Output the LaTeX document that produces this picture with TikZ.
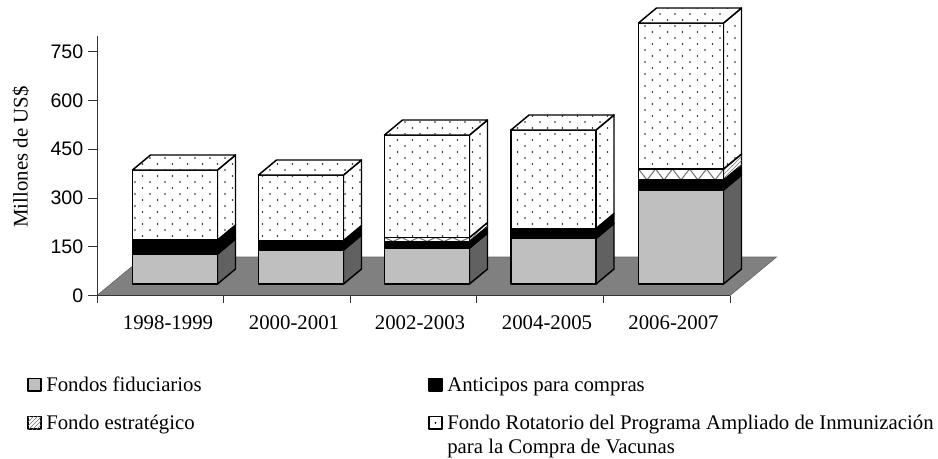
\documentclass[tikz,border=0pt]{standalone}
\usepackage{fontspec}
\setmainfont{Liberation Serif}
\newfontfamily\sansnum{Liberation Sans}
\usepackage{tikz}
\usetikzlibrary{patterns}

% sparse staggered dots for the revolving fund
\pgfdeclarepatternformonly{sparsedots}{\pgfqpoint{-1pt}{-1pt}}{\pgfqpoint{12pt}{10pt}}{\pgfqpoint{11.25pt}{9pt}}{
  \pgfpathcircle{\pgfqpoint{0pt}{0pt}}{0.7pt}
  \pgfpathcircle{\pgfqpoint{5.6pt}{4.5pt}}{0.7pt}
  \pgfusepath{fill}}

\tikzset{
  edge/.style={draw=black, line width=1.1pt, line join=round},
  grayface/.style={edge, fill=black!25},
  grayside/.style={edge, fill=black!62},
  blackface/.style={edge, fill=black},
  dotface/.style={edge, fill=white, postaction={pattern=sparsedots, pattern color=black!90}},
  hatchface/.style={edge, fill=white},
  hatchside/.style={edge, fill=white, postaction={pattern=north east lines, pattern color=black!55}},
  txt/.style={font=\fontsize{15.6}{18}\selectfont},
}

% one layer of a bar: x, bottom, top, front style, side style
\newcommand{\slab}[5]{%
  \filldraw[#5] (#1+85,#2) -- ++(18,-15) -- ++(0,#3-#2) -- ++(-18,15) -- cycle;
  \filldraw[#4] (#1,#2) -- ++(85,0) -- ++(0,#3-#2) -- ++(-85,0) -- cycle;
}
% zigzag on the front of the strategic fund layer
\newcommand{\zig}[3]{%
  \begin{scope}
    \clip (#1,#2) rectangle (#1+85,#3);
    \foreach \k in {0,...,4}
      \draw[black!55, line width=0.8pt] (#1+\k*17,#3) -- (#1+\k*17+8.5,#2) -- (#1+\k*17+17,#3);
  \end{scope}
  \draw[edge] (#1,#2) rectangle (#1+85,#3);
}
\newcommand{\slabtop}[2]{%
  \filldraw[dotface] (#1,#2) -- ++(18,-15) -- ++(85,0) -- ++(-18,15) -- cycle;
}

\begin{document}
\begin{tikzpicture}[x=0.75pt, y=-0.75pt]
	\useasboundingbox (0,0) rectangle (938,458);

	% floor and axes
	\filldraw[fill=gray, draw=black!60, line width=0.5pt]
	   (97,295.5) -- (730,295.5) -- (776.5,257) -- (143.5,257) -- cycle;
	\draw[black!80, line width=0.6pt] (97,35.5) -- (97,295.5) -- (730,295.5);
	\foreach \i in {0,...,5}
	   \draw[black!80, line width=0.6pt] (97+\i*126.6,295.5) -- ++(0,7);
	\foreach \v in {0,150,...,750} {
	   \draw[black!80, line width=0.6pt] (88,295.5-\v*0.3253) -- (97,295.5-\v*0.3253);
	   \node[anchor=east, inner sep=0pt, font=\sansnum\fontsize{14.7}{16}\selectfont]
	      (tick\v) at (83.5,295.5-\v*0.3253) {\v};
	}
	\node[rotate=90, txt] (ylab) at (21,157) {Millones de US\$};

	% 1998-1999
	\slab{132.5}{284}{254}{grayface}{grayside}
	\slab{132.5}{254}{240}{blackface}{blackface}
	\slab{132.5}{240}{170}{dotface}{dotface}
	\slabtop{132.5}{170}

	% 2000-2001
	\slab{258.5}{284}{250}{grayface}{grayside}
	\slab{258.5}{250}{240.5}{blackface}{blackface}
	\slab{258.5}{240.5}{175}{dotface}{dotface}
	\slabtop{258.5}{175}

	% 2002-2003
	\slab{384.5}{284}{248}{grayface}{grayside}
	\slab{384.5}{248}{241.5}{blackface}{blackface}
	\slab{384.5}{241.5}{237.5}{hatchface}{hatchside}
	\zig{384.5}{241.5}{237.5}
	\slab{384.5}{237.5}{135}{dotface}{dotface}
	\slabtop{384.5}{135}

	% 2004-2005
	\slab{511}{284}{238.5}{grayface}{grayside}
	\slab{511}{238.5}{228.5}{blackface}{blackface}
	\slab{511}{228.5}{130}{dotface}{dotface}
	\slabtop{511}{130}

	% 2006-2007
	\slab{638.5}{284}{190}{grayface}{grayside}
	\slab{638.5}{190}{180}{blackface}{blackface}
	\slab{638.5}{180}{169}{hatchface}{hatchside}
	\zig{638.5}{180}{169}
	\slab{638.5}{169}{23}{dotface}{dotface}
	\slabtop{638.5}{23}

	% category labels
	\begin{scope}[every node/.style={txt}]
	\node (c1) at (168,323) {1998-1999};
	\node (c2) at (294,323) {2000-2001};
	\node (c3) at (420,323) {2002-2003};
	\node (c4) at (547,323) {2004-2005};
	\node (c5) at (673.5,323) {2006-2007};
	\end{scope}

	% legend
	\filldraw[grayface, line width=0.8pt] (28,378.5) rectangle (41,391);
	\filldraw[blackface, line width=0.8pt] (429,378.5) rectangle (442,391);
	\filldraw[hatchside, line width=0.8pt] (28,416.5) rectangle (41,429);
	\filldraw[edge, fill=white, line width=0.8pt] (429,416.5) rectangle (442,429);
	\fill (435.5,422.75) circle (1);
	\begin{scope}[every node/.style={anchor=base west, inner sep=0pt, txt}]
	\node (leg1) at (46,391) {Fondos fiduciarios};
	\node (leg2) at (447,391) {Anticipos para compras};
	\node (leg3) at (46,429) {Fondo estratégico};
	\node (leg4) at (447,429) {Fondo Rotatorio del Programa Ampliado de Inmunización};
	\node (leg4b) at (447,453) {para la Compra de Vacunas};
	\end{scope}
\end{tikzpicture}
\end{document}
